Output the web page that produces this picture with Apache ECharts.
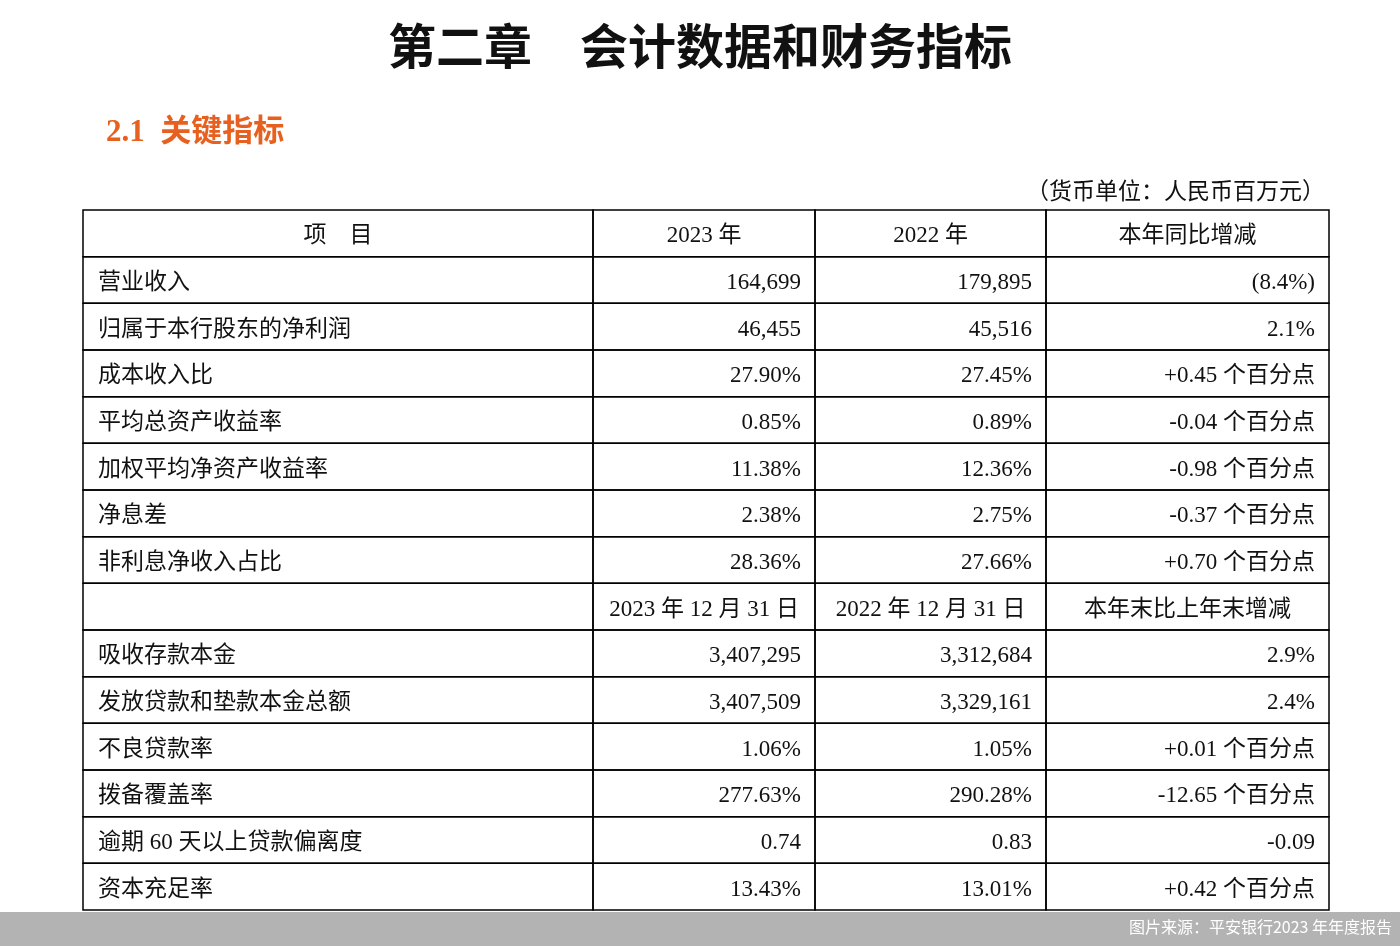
<!DOCTYPE html>
<html><head><meta charset="utf-8">
<script src="https://cdn.jsdelivr.net/npm/echarts@6/dist/echarts.min.js"></script>
<style>html,body{margin:0;padding:0;background:#fff}#c{width:1400px;height:946px}</style>
</head><body><div id="c"></div>
<script>
const headerRow1 = ['项　目', '2023 年', '2022 年', '本年同比增减'];
const items1 = ['营业收入','归属于本行股东的净利润','成本收入比','平均总资产收益率','加权平均净资产收益率','净息差','非利息净收入占比'];
const v2023a = ['164,699','46,455','27.90%','0.85%','11.38%','2.38%','28.36%'];
const v2022a = ['179,895','45,516','27.45%','0.89%','12.36%','2.75%','27.66%'];
const chgA = ['(8.4%)','2.1%','+0.45 个百分点','-0.04 个百分点','-0.98 个百分点','-0.37 个百分点','+0.70 个百分点'];
const headerRow2 = ['', '2023 年 12 月 31 日', '2022 年 12 月 31 日', '本年末比上年末增减'];
const items2 = ['吸收存款本金','发放贷款和垫款本金总额','不良贷款率','拨备覆盖率','逾期 60 天以上贷款偏离度','资本充足率'];
const v2023b = ['3,407,295','3,407,509','1.06%','277.63%','0.74','13.43%'];
const v2022b = ['3,312,684','3,329,161','1.05%','290.28%','0.83','13.01%'];
const chgB = ['2.9%','2.4%','+0.01 个百分点','-12.65 个百分点','-0.09','+0.42 个百分点'];

const colEdges = [0, 510, 732, 963, 1246];
const rows = [];
rows.push({cells: headerRow1, head: true});
items1.forEach((n,i)=>rows.push({cells:[n,v2023a[i],v2022a[i],chgA[i]]}));
rows.push({cells: headerRow2, head: true});
items2.forEach((n,i)=>rows.push({cells:[n,v2023b[i],v2022b[i],chgB[i]]}));
const data = [];
rows.forEach((r,ri)=>r.cells.forEach((t,ci)=>data.push([ci, ri, t, r.head?1:0])));
const FONT = '"Liberation Serif","Noto Sans CJK SC",serif';

const chart = echarts.init(document.getElementById('c'));
chart.setOption({
  animation:false,
  title:[
    {text:'第二章　会计数据和财务指标', left:'center', top:17, textStyle:{fontSize:48, fontWeight:'bold', color:'#111', fontFamily:'"Noto Sans CJK SC"'}},
    {text:'2.1  关键指标', left:101, top:112, textStyle:{fontSize:31, fontWeight:'bold', color:'#e8601f', fontFamily:FONT}},
    {text:'（货币单位：人民币百万元）', right:70, top:176, textStyle:{fontSize:23, fontWeight:'normal', color:'#111', fontFamily:FONT}}
  ],
  graphic:[
    {type:'rect', shape:{x:0,y:912,width:1400,height:34}, style:{fill:'#b3b3b3'}},
    {type:'text', right:8, top:919, style:{text:'图片来源：平安银行2023 年年度报告', fill:'#fff', fontSize:16, fontFamily:'"Noto Sans CJK SC"'}}
  ],
  grid:{left:83, top:210, width:1246, height:700},
  xAxis:{type:'value', min:0, max:1246, show:false},
  yAxis:{type:'category', data:rows.map((r,i)=>i), inverse:true, show:false},
  series:[{
    type:'custom', data:data, clip:false,
    renderItem:function(params, api){
      const c = api.value(0), r = api.value(1), t = api.value(2), head = api.value(3);
      const p0 = api.coord([colEdges[c], r]);
      const p1 = api.coord([colEdges[c+1], r]);
      const h = api.size([0,1])[1];
      const x0 = p0[0], x1 = p1[0], y = p0[1];
      let tx, align;
      if (head) { tx = (x0+x1)/2; align='center'; }
      else if (c===0) { tx = x0+15; align='left'; }
      else { tx = x1-14; align='right'; }
      return {type:'group', children:[
        {type:'rect', shape:{x:x0, y:y-h/2, width:x1-x0, height:h}, style:{fill:'none', stroke:'#000', lineWidth:1.5}},
        {type:'text', style:{text:t, x:tx, y:y+3, align:align, verticalAlign:'middle', fontSize:23, fill:'#111', fontFamily:FONT}}
      ]};
    }
  }]
});
</script></body></html>
